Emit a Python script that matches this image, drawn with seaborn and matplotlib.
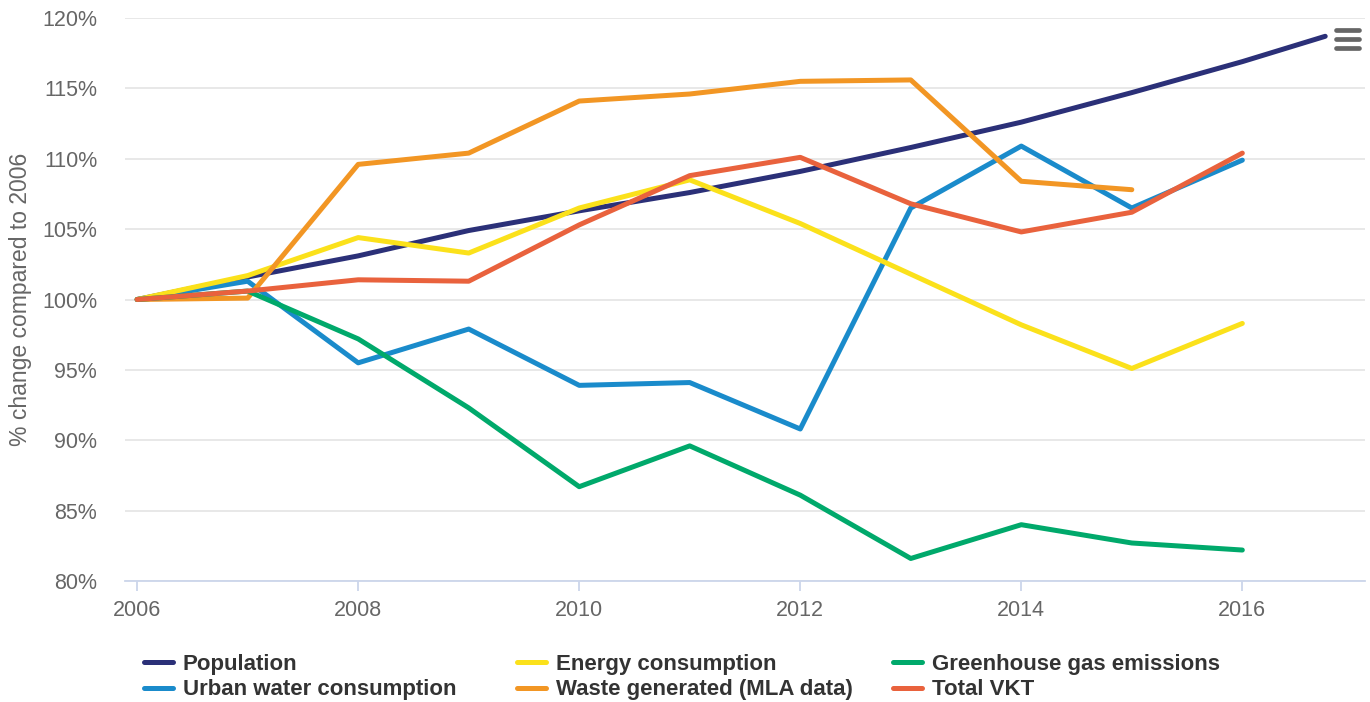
import numpy as np
import pandas as pd
import seaborn as sns
import matplotlib.pyplot as plt
from matplotlib.lines import Line2D

years = [2006, 2007, 2008, 2009, 2010, 2011, 2012, 2013, 2014, 2015, 2016]
pop_years = years + [2016.75]
population = [100, 101.6, 103.1, 104.9, 106.3, 107.6, 109.1, 110.8, 112.6, 114.7, 116.9, 118.7]
water = [100, 101.3, 95.5, 97.9, 93.9, 94.1, 90.8, 106.5, 110.9, 106.5, 109.9]
energy = [100, 101.7, 104.4, 103.3, 106.5, 108.5, 105.4, 101.8, 98.2, 95.1, 98.3]
waste_years = years[:-1]
waste = [100, 100.1, 109.6, 110.4, 114.1, 114.6, 115.5, 115.6, 108.4, 107.8]
ghg = [100, 100.6, 97.2, 92.3, 86.7, 89.6, 86.1, 81.6, 84.0, 82.7, 82.2]
vkt = [100, 100.6, 101.4, 101.3, 105.3, 108.8, 110.1, 106.8, 104.8, 106.2, 110.4]

series = ['Population', 'Urban water consumption', 'Energy consumption',
          'Waste generated (MLA data)', 'Greenhouse gas emissions', 'Total VKT']
colors = ['#2b3078', '#1a8bcb', '#fbe11b', '#f29624', '#00a96b', '#e9623d']

frames = []
for name, xs, ys in [(series[0], pop_years, population), (series[1], years, water),
                     (series[2], years, energy), (series[3], waste_years, waste),
                     (series[4], years, ghg), (series[5], years, vkt)]:
    frames.append(pd.DataFrame({'year': xs, 'value': ys, 'series': name}))
df = pd.concat(frames, ignore_index=True)

sns.set_style('white')
plt.rcParams['font.family'] = ['Liberation Sans', 'DejaVu Sans']

fig = plt.figure(figsize=(13.7, 7.02), dpi=100)
ax = fig.add_axes([125 / 1370, 1 - 581 / 702, 1240 / 1370, 563 / 702])

sns.lineplot(data=df, x='year', y='value', hue='series', hue_order=series,
             palette=colors, linewidth=3.6, ax=ax, legend=True,
             solid_capstyle='round', solid_joinstyle='round', sort=False)

ax.set_xlim(2005.89, 2017.11)
ax.set_ylim(80, 120)
ax.set_yticks(range(80, 121, 5))
ax.set_yticklabels([f'{v}%' for v in range(80, 121, 5)])
ax.set_xticks(range(2006, 2017, 2))
ax.grid(axis='y', color='#e6e6e6', linewidth=1.3)
ax.set_axisbelow(True)
for s in ['top', 'right', 'left']:
    ax.spines[s].set_visible(False)
ax.spines['bottom'].set_color('#ccd6eb')
ax.spines['bottom'].set_linewidth(1.3)
ax.tick_params(axis='x', bottom=True, direction='out', colors='#ccd6eb', length=7.5,
               width=1.3, labelcolor='#666666', labelsize=15.5, pad=6)
ax.tick_params(axis='y', left=False, length=0, labelcolor='#666666', labelsize=15.5, pad=20)
ax.set_xlabel('')
ax.set_ylabel('% change compared to 2006', color='#666666', fontsize=16.5, labelpad=2)
ax.yaxis.set_label_coords(-93 / 1240, 0.5)

handles, labels = ax.get_legend_handles_labels()
ax.get_legend().remove()
col_x = [144, 517, 893]
for i, x0 in enumerate(col_x):
    fig.legend(handles[2 * i:2 * i + 2], labels[2 * i:2 * i + 2], loc='upper left',
               bbox_to_anchor=(x0 / 1370, 1 - 654 / 702), borderaxespad=0, borderpad=0,
               frameon=False, handlelength=1.3, handletextpad=0.45, labelspacing=0.2,
               prop={'weight': 'bold', 'size': 16}, labelcolor='#333333')

# menu icon (top right)
for yy in [30, 39, 48]:
    fig.add_artist(Line2D([1336 / 1370, 1359 / 1370], [1 - yy / 702, 1 - yy / 702],
                          color='#666666', linewidth=3.4, solid_capstyle='round'))

fig.savefig('out.png', dpi=100)
